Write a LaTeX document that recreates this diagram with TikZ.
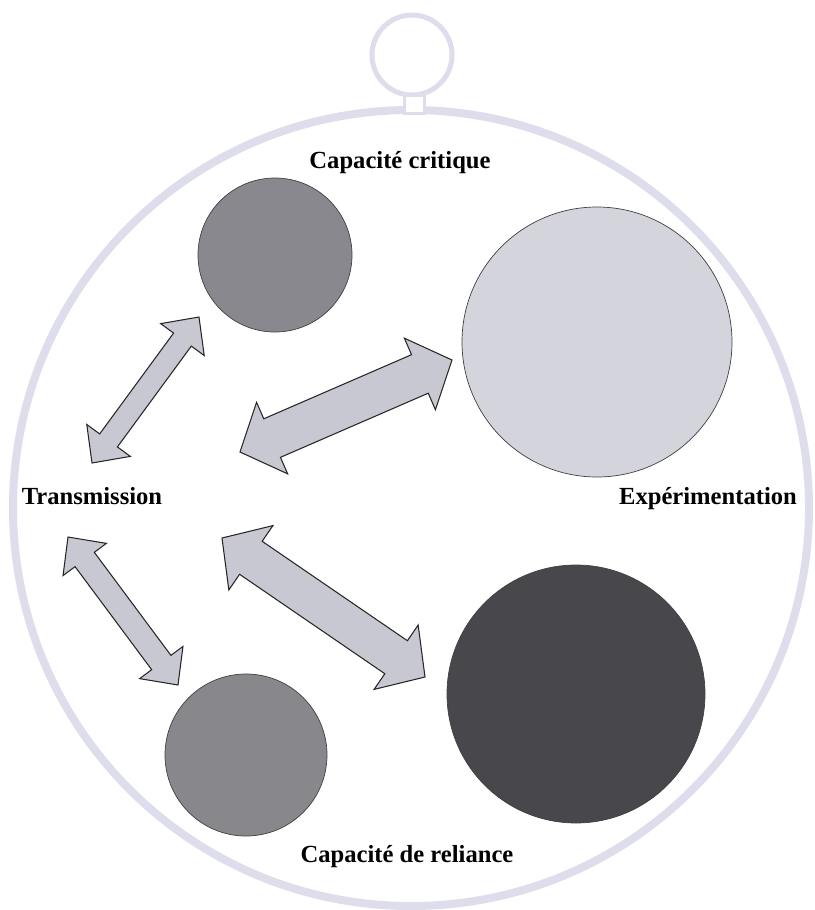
\documentclass[tikz,border=0pt]{standalone}
\usepackage{fontspec}
\setmainfont{Liberation Serif}
\usetikzlibrary{calc}

\definecolor{framecol}{RGB}{221,221,236}
\definecolor{arrowfill}{RGB}{200,200,210}
\definecolor{critfill}{RGB}{136,136,142}
\definecolor{expfill}{RGB}{212,212,220}
\definecolor{darkfill}{RGB}{72,72,76}
\definecolor{relfill}{RGB}{136,136,140}

\def\px{0.03cm}

% double block arrow between two named tips
% #1,#2 tips | #3 half shaft | #4 half head | #5 head length (px)
\newcommand\dblarrow[5]{%
  \draw[blockarrow] (#1)
    -- ($(#1)!#5*\px!(#2)!#4*\px!90:(#2)$)
    -- ($(#1)!#5*\px!(#2)!#3*\px!90:(#2)$)
    -- ($(#2)!#5*\px!(#1)!#3*\px!-90:(#1)$)
    -- ($(#2)!#5*\px!(#1)!#4*\px!-90:(#1)$)
    -- (#2)
    -- ($(#2)!#5*\px!(#1)!#4*\px!90:(#1)$)
    -- ($(#2)!#5*\px!(#1)!#3*\px!90:(#1)$)
    -- ($(#1)!#5*\px!(#2)!#3*\px!-90:(#2)$)
    -- ($(#1)!#5*\px!(#2)!#4*\px!-90:(#2)$)
    -- cycle;}

\begin{document}
\begin{tikzpicture}[
    x=\px, y=-\px,
    every node/.style={inner sep=0pt},
    disc/.style={circle, draw=black!75, line width=0.6pt},
    blockarrow/.style={fill=arrowfill, draw=black!85, line width=0.9pt, line join=miter},
    lbl/.style={font=\fontsize{21}{25}\selectfont\bfseries, anchor=base}
]
\useasboundingbox (0,0) rectangle (815,910);

% frame with its hanging ring
\node[circle, draw=framecol, line width=8*\px, minimum size=796*\px] (frame) at (411,508) {};
\node[circle, draw=framecol, line width=5*\px, minimum size=80*\px] (ring) at (412,55) {};
\node[draw=framecol, fill=white, line width=3*\px, minimum width=20*\px, minimum height=18*\px] (stem) at (414,104) {};

% discs
\node[disc, fill=critfill, minimum size=154*\px] (crit) at (275,255) {};
\node[disc, fill=expfill,  minimum size=270*\px] (exper) at (597,342) {};
\node[disc, fill=darkfill, minimum size=258*\px] (darkd) at (576,694) {};
\node[disc, fill=relfill,  minimum size=162*\px] (rel) at (246,755) {};

% labels
\node[lbl] (lcrit)  at (400,168) {Capacité critique};
\node[lbl] (ltrans) at (92,504)  {Transmission};
\node[lbl] (lexper) at (708,504) {Expérimentation};
\node[lbl] (lrel)   at (407,862) {Capacité de reliance};

% arrow tips
\coordinate (c1a) at (92,463);
\coordinate (c1b) at (199,317);
\coordinate (c2a) at (240,452);
\coordinate (c2b) at (452,360);
\coordinate (c3a) at (68,537);
\coordinate (c3b) at (178,685);
\coordinate (c4a) at (222,538);
\coordinate (c4b) at (425,677);

% block arrows
\dblarrow{c1a}{c1b}{11}{27}{28}
\dblarrow{c2a}{c2b}{21}{39}{35}
\dblarrow{c3a}{c3b}{12}{27}{28}
\dblarrow{c4a}{c4b}{20}{39}{35}

\end{tikzpicture}
\end{document}
